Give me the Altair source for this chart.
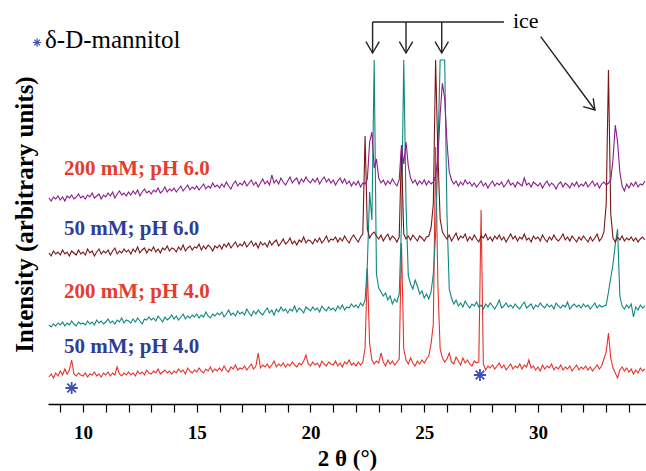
import altair as alt
import numpy as np
import pandas as pd

# 2-theta sampling grid (degrees), 8.5 .. 34.7 step 0.1
TWO_THETA = np.round(np.arange(8.5, 34.75, 0.1), 1)

# Intensities (arbitrary units, vertically offset traces)
PURPLE_200_PH6 = [
    206, 203, 207, 205, 208,
    204, 207, 203, 208, 206, 209, 205, 207, 210, 206,
    208, 205, 209, 207, 211, 206, 208, 210, 205, 209,
    207, 211, 208, 212, 206, 210, 213, 209, 211, 208,
    212, 209, 213, 210, 214, 208, 212, 215, 211, 213,
    210, 214, 212, 216, 211, 213, 217, 212, 215, 213,
    216, 212, 215, 218, 213, 216, 219, 214, 217, 215,
    218, 214, 217, 220, 215, 218, 216, 221, 217, 219,
    216, 220, 217, 222, 218, 215, 220, 223, 218, 221,
    219, 223, 218, 221, 224, 219, 222, 217, 221, 225,
    220, 223, 219, 229, 221, 224, 220, 226, 222, 219,
    223, 227, 221, 224, 226, 220, 225, 222, 227, 223,
    221, 225, 222, 226, 220, 224, 227, 222, 225, 221,
    224, 219, 223, 226, 221, 225, 220, 223, 218, 222,
    219, 223, 217, 221, 220, 225, 262, 272, 236, 245,
    226, 221, 224, 219, 223, 220, 225, 221, 218, 224,
    259, 240, 262, 238, 226, 221, 224, 219, 223, 220,
    224, 219, 223, 220, 222, 228, 245, 290, 321, 305,
    262, 232, 224, 220, 223, 218, 222, 219, 224, 220,
    222, 218, 221, 217, 220, 223, 218, 221, 216, 220,
    223, 218, 221, 219, 222, 217, 220, 224, 219, 221,
    217, 222, 220, 218, 226, 219, 221, 217, 222, 220,
    218, 221, 216, 220, 223, 218, 221, 219, 215, 220,
    222, 217, 221, 219, 216, 221, 218, 222, 217, 220,
    218, 222, 217, 220, 223, 218, 221, 216, 220, 222,
    219, 221, 224, 245, 279, 262, 232, 218, 213, 220,
    216, 221, 218, 222, 217, 220, 219, 223,
]

DARKRED_50_PH6 = [
    151, 148, 153, 150, 152,
    149, 154, 150, 152, 148, 153, 151, 149, 154, 150,
    152, 149, 155, 151, 153, 148, 152, 155, 150, 153,
    151, 154, 149, 153, 156, 150, 153, 151, 155, 152,
    154, 150, 155, 152, 157, 151, 154, 156, 151, 155,
    153, 157, 152, 155, 151, 156, 154, 158, 153, 156,
    155, 152, 157, 154, 159, 153, 156, 158, 154, 157,
    156, 160, 154, 158, 155, 159, 157, 153, 158, 156,
    159, 155, 160, 157, 161, 156, 159, 162, 157, 160,
    158, 162, 157, 160, 163, 158, 161, 156, 162, 159,
    161, 157, 163, 159, 162, 164, 158, 161, 165, 160,
    162, 166, 160, 163, 159, 164, 162, 167, 161, 164,
    163, 160, 165, 162, 166, 161, 164, 168, 162, 165,
    164, 167, 162, 166, 163, 168, 164, 161, 166, 169,
    165, 162, 167, 170, 268, 175, 166, 170, 172, 168,
    165, 169, 163, 167, 170, 164, 168, 166, 162, 167,
    254, 170, 165, 168, 164, 169, 166, 163, 168, 166,
    163, 167, 168, 176, 200, 344, 250, 185, 172, 168,
    165, 169, 163, 167, 171, 164, 168, 166, 170, 163,
    167, 164, 169, 165, 162, 168, 166, 170, 164, 167,
    163, 168, 165, 169, 164, 167, 162, 166, 170, 165,
    168, 163, 167, 165, 170, 164, 166, 162, 168, 165,
    167, 163, 169, 165, 162, 167, 164, 169, 165, 163,
    166, 170, 164, 167, 163, 168, 165, 162, 167, 164,
    168, 165, 162, 167, 163, 166, 170, 163, 166, 172,
    200, 334, 190, 166, 162, 167, 164, 168, 163, 166,
    164, 167, 163, 166, 162, 165, 167, 164,
]

TEAL_200_PH4 = [
    79, 77, 80, 78, 81,
    79, 82, 78, 81, 79, 83, 80, 78, 82, 80,
    81, 79, 83, 80, 82, 79, 84, 81, 83, 80,
    82, 85, 81, 83, 80, 84, 82, 86, 81, 84,
    83, 81, 85, 82, 86, 83, 80, 85, 84, 87,
    84, 86, 83, 88, 85, 82, 87, 84, 86, 89,
    85, 88, 84, 87, 90, 85, 88, 86, 89, 87,
    90, 86, 89, 87, 92, 88, 86, 90, 88, 91,
    89, 92, 87, 90, 94, 89, 91, 88, 93, 90,
    92, 89, 95, 91, 88, 93, 90, 94, 91, 89,
    93, 96, 91, 94, 89, 95, 92, 97, 93, 95,
    91, 95, 93, 98, 92, 96, 94, 91, 97, 95,
    93, 97, 94, 96, 92, 98, 95, 93, 97, 94,
    96, 93, 98, 95, 99, 94, 97, 96, 100, 97,
    99, 96, 101, 98, 104, 140, 212, 184, 344, 130,
    116, 112, 108, 111, 104, 108, 100, 105, 102, 110,
    180, 344, 200, 128, 120, 115, 124, 118, 110, 113,
    106, 110, 105, 112, 130, 170, 250, 344, 344, 344,
    190, 115, 106, 100, 104, 98, 101, 97, 103, 99,
    96, 100, 98, 102, 97, 99, 95, 100, 97, 101,
    98, 95, 99, 104, 96, 98, 101, 97, 99, 96,
    100, 97, 95, 99, 102, 96, 98, 100, 95, 99,
    97, 101, 98, 96, 100, 97, 99, 95, 101, 98,
    96, 99, 97, 102, 95, 98, 100, 97, 99, 96,
    100, 97, 99, 95, 98, 101, 96, 99, 97, 98,
    99, 112, 126, 140, 160, 175, 108, 98, 95, 99,
    96, 100, 87, 97, 94, 99, 96, 98,
]

RED_50_PH4 = [
    27, 30, 26, 31, 28,
    33, 29, 35, 30, 34, 44, 30, 28, 31, 29,
    28, 31, 27, 30, 29, 32, 28, 30, 27, 31,
    29, 32, 28, 31, 29, 37, 30, 28, 31, 29,
    32, 29, 31, 28, 33, 30, 32, 29, 34, 31,
    30, 33, 31, 35, 30, 32, 34, 31, 33, 30,
    33, 31, 35, 32, 34, 30, 36, 33, 31, 34,
    32, 36, 33, 31, 35, 33, 37, 32, 35, 33,
    36, 33, 38, 34, 32, 37, 35, 39, 34, 36,
    35, 38, 34, 37, 40, 35, 38, 51, 36, 39,
    37, 40, 36, 39, 43, 37, 40, 38, 41, 37,
    40, 38, 42, 39, 37, 41, 39, 43, 49, 40,
    38, 42, 39, 41, 37, 43, 40, 38, 42, 40,
    39, 43, 38, 41, 37, 42, 40, 44, 39, 41,
    38, 42, 39, 42, 56, 136, 60, 44, 40, 43,
    41, 51, 42, 38, 44, 40, 43, 39, 42, 45,
    161, 55, 44, 40, 46, 41, 38, 43, 40, 44,
    41, 45, 48, 60, 80, 257, 120, 55, 46, 42,
    45, 51, 42, 40, 47, 43, 39, 46, 41, 44,
    40, 38, 43, 41, 42, 194, 40, 34, 38, 36,
    39, 35, 38, 41, 36, 39, 34, 37, 40, 35,
    38, 36, 40, 35, 39, 37, 44, 36, 38, 34,
    37, 33, 39, 35, 38, 36, 40, 34, 37, 35,
    39, 34, 37, 35, 38, 33, 36, 39, 34, 37,
    35, 38, 34, 37, 33, 36, 39, 35, 38, 45,
    52, 71, 46, 36, 31, 26, 34, 37, 33, 36,
    32, 35, 30, 34, 31, 36, 33, 35,
]

TRACE_COLORS = ["#E5322A", "#0E8782", "#7A1515", "#8B1C8C"]
TRACES = [RED_50_PH4, TEAL_200_PH4, DARKRED_50_PH6, PURPLE_200_PH6]

SAMPLE_LABELS = ["200 mM; pH 6.0", "50 mM; pH 6.0", "200 mM; pH 4.0", "50 mM; pH 4.0"]
LABEL_COLORS = ["#E63B2E", "#2C3E98", "#E63B2E", "#2C3E98"]
LABEL_X = [9.16, 9.16, 9.16, 9.16]
LABEL_Y = [229, 169, 106, 51]

STAR_X = [9.50, 27.45]
STAR_Y = [16, 29]

# ice annotation
ICE_PEAKS = [22.73, 24.20, 25.77]

FONT = "Liberation Serif"

xscale = alt.Scale(domain=[8.46, 34.75], nice=False, zero=False)
yscale = alt.Scale(domain=[0, 404], nice=False, zero=False)

xaxis = alt.Axis(
    values=list(range(9, 35)),
    labelExpr="datum.value % 5 === 0 ? datum.value : ''",
    tickSize=8, tickColor="black", tickWidth=1.2,
    domainColor="black", domainWidth=1.6,
    labelFont=FONT, labelFontWeight="bold", labelFontSize=19, labelColor="black",
    labelBaseline="alphabetic", labelPadding=26, labelFlush=False, labelOverlap=False,
    title="2 θ (°)", titleFont=FONT, titleFontWeight="bold", titleFontSize=23,
    titleColor="black", titleBaseline="alphabetic", titleY=61, grid=False,
)
yaxis = alt.Axis(
    title="Intensity (arbitrary units)", domain=False, ticks=False, labels=False, grid=False,
    titleFont=FONT, titleFontWeight="bold", titleFontSize=25, titleColor="black",
    titleAngle=270, titleX=-24, titleY=214, titleAlign="center", titleBaseline="middle",
)

X = alt.X("x:Q", scale=xscale, axis=xaxis)
Y = alt.Y("y:Q", scale=yscale, axis=yaxis)

layers = []
for vals, col in zip(TRACES, TRACE_COLORS):
    df = pd.DataFrame({"x": TWO_THETA, "y": vals})
    layers.append(
        alt.Chart(df).mark_line(color=col, strokeWidth=1.1).encode(x=X, y=Y, order="x:Q")
    )

# sample labels
lab_df = pd.DataFrame({"x": LABEL_X, "y": LABEL_Y, "t": SAMPLE_LABELS, "c": LABEL_COLORS})
layers.append(
    alt.Chart(lab_df).mark_text(font=FONT, fontWeight="bold", fontSize=21, align="left",
                                baseline="alphabetic").encode(
        x=X, y=Y, text="t:N", color=alt.Color("c:N", scale=None))
)

# asterisk markers
STAR_PATH = "M0,-1L0,1M-1,0L1,0M-0.7,-0.7L0.7,0.7M-0.7,0.7L0.7,-0.7"
star_df = pd.DataFrame({"x": STAR_X, "y": STAR_Y})
layers.append(
    alt.Chart(star_df).mark_point(shape=STAR_PATH, filled=False, color="#3F51B5",
                                  strokeWidth=1.8, size=150, opacity=1).encode(x=X, y=Y)
)
leg_star = pd.DataFrame({"x": [7.98], "y": [361.5]})
layers.append(
    alt.Chart(leg_star).mark_point(shape=STAR_PATH, filled=False, color="#3F51B5",
                                   strokeWidth=1.2, size=70, opacity=1).encode(x=X, y=Y)
)
leg_txt = pd.DataFrame({"x": [8.33], "y": [356], "t": ["δ-D-mannitol"]})
layers.append(
    alt.Chart(leg_txt).mark_text(font=FONT, fontSize=25, align="left", baseline="alphabetic",
                                 color="black").encode(x=X, y=Y, text="t:N")
)

# ice bracket & arrows
rules = pd.DataFrame({
    "x": [ICE_PEAKS[0]] + ICE_PEAKS,
    "x2": [28.505] + ICE_PEAKS,
    "y": [382, 382, 382, 382],
    "y2": [382, 351, 351, 351],
})
layers.append(
    alt.Chart(rules).mark_rule(color="#222222", strokeWidth=1.4).encode(
        x=X, x2="x2:Q", y=Y, y2="y2:Q")
)
heads = []
for i, p in enumerate(ICE_PEAKS):
    heads += [(p - 0.294, 362.3, i, 0), (p, 351, i, 1), (p + 0.294, 362.3, i, 2)]
heads += [(31.99, 297.3, 9, 0), (32.505, 294, 9, 1), (32.43, 305.7, 9, 2)]
heads += [(30.12, 367.3, 10, 0), (32.505, 294, 10, 1)]
head_df = pd.DataFrame(heads, columns=["x", "y", "g", "o"])
layers.append(
    alt.Chart(head_df).mark_line(color="#222222", strokeWidth=1.4).encode(
        x=X, y=Y, detail="g:N", order="o:Q")
)
ice_txt = pd.DataFrame({"x": [28.90], "y": [376], "t": ["ice"]})
layers.append(
    alt.Chart(ice_txt).mark_text(font=FONT, fontSize=22, align="left", baseline="alphabetic",
                                 color="black").encode(x=X, y=Y, text="t:N")
)

chart = alt.layer(*layers).properties(
    width=598, height=404,
    autosize=alt.AutoSizeParams(type="none"),
    padding={"left": 48, "right": 0, "top": 0, "bottom": 67},
    background="white",
).configure_view(stroke=None)

chart.save("out.html", embed_options={"renderer": "svg", "actions": False})
